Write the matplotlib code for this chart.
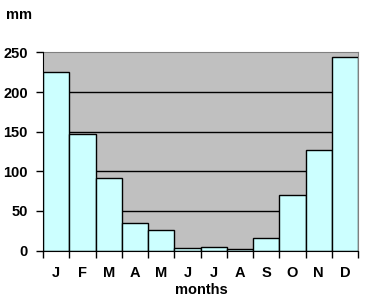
import matplotlib
matplotlib.use("Agg")
import matplotlib.pyplot as plt
import numpy as np

months = ["J", "F", "M", "A", "M", "J", "J", "A", "S", "O", "N", "D"]
rain_mm = [226, 147, 92, 35, 26, 3, 5, 2, 16, 70, 127, 244]
y_ticks = [0, 50, 100, 150, 200, 250]

plt.rcParams['font.family'] = ['Liberation Sans', 'DejaVu Sans']
plt.rcParams['font.weight'] = 'bold'
FS = 10.5

W, H = 373, 296
fig = plt.figure(figsize=(W/100, H/100), dpi=100)
ax = fig.add_axes([43/W, 1-250.5/H, (358-43)/W, (250.5-52.5)/H])
ax.set_facecolor("#C0C0C0")

x = np.arange(len(months))
ax.bar(x, rain_mm, width=1.0, color="#CCFFFF", edgecolor="black", linewidth=1.0, zorder=3)
ax.set_xlim(-0.5, len(months)-0.5)
ax.set_ylim(0, 250)
ax.set_yticks(y_ticks)
ax.set_yticklabels([str(v) for v in y_ticks], fontsize=FS, fontweight='bold')
for v in y_ticks[1:-1]:
    ax.axhline(v, color="black", linewidth=1.0, zorder=1)

ax.set_xticks(x)
ax.set_xticklabels(months, fontsize=FS, fontweight='bold')
ax.set_xticks(np.arange(len(months)+1)-0.5, minor=True)
ax.tick_params(axis='x', which='major', length=0, pad=11)
ax.tick_params(axis='x', which='minor', length=5, width=1, direction='out')
ax.tick_params(axis='y', length=5, width=1, direction='out', pad=6)

for s in ["top", "right"]:
    ax.spines[s].set_color("#808080")
for s in ["left", "bottom"]:
    ax.spines[s].set_color("black")
    ax.spines[s].set_zorder(4)

fig.text(6/W, 1-19/H, "mm", fontsize=FS, fontweight='bold', va="baseline", ha="left")
fig.text(201/W, 1-293.5/H, "months", fontsize=FS, fontweight='bold', va="baseline", ha="center")

fig.savefig("out.png", dpi=100)
